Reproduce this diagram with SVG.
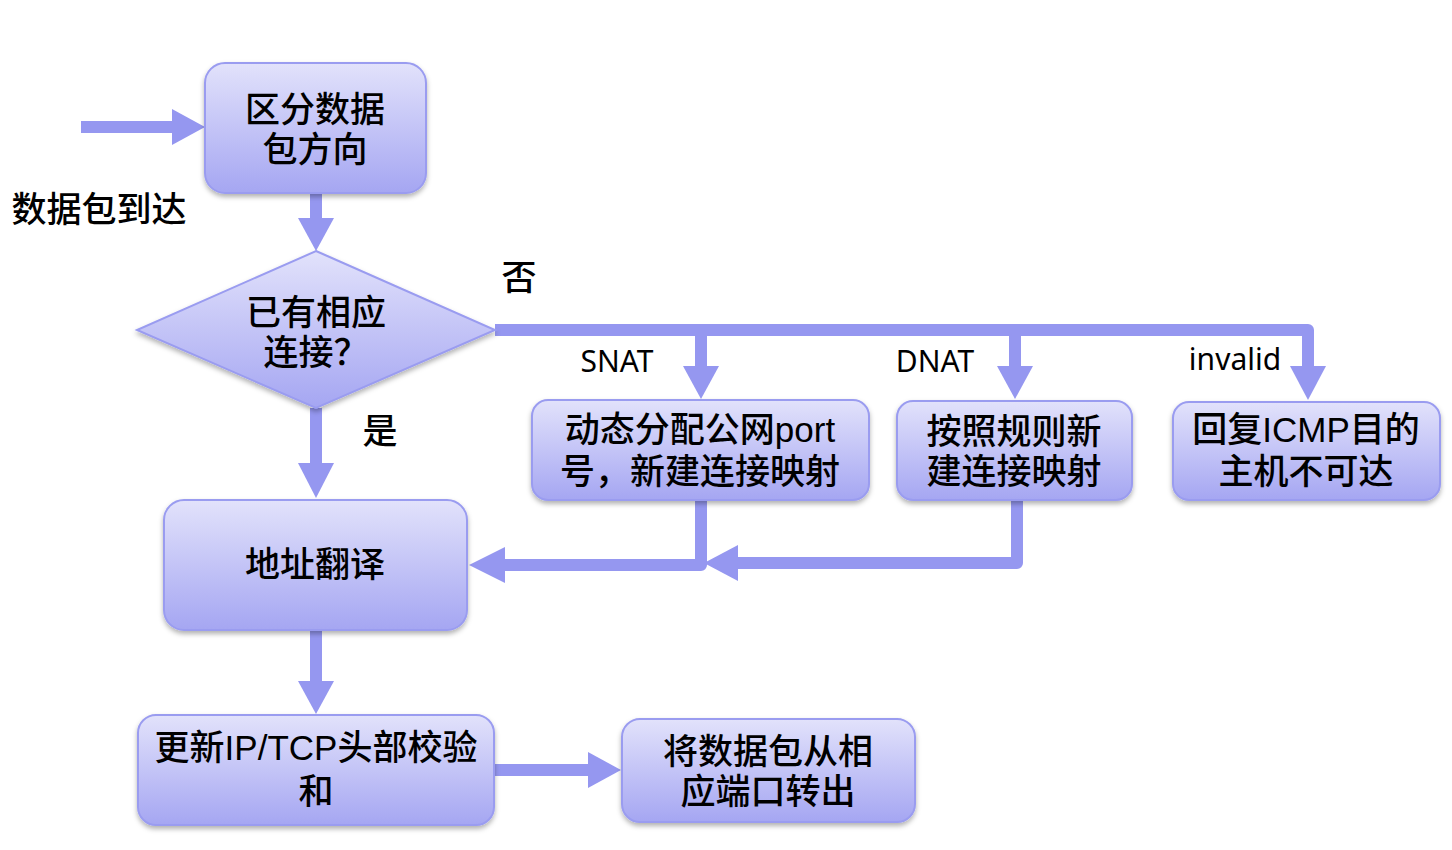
<svg xmlns="http://www.w3.org/2000/svg" width="1452" height="850" viewBox="0 0 1452 850">
<defs>
<linearGradient id="g" x1="0" y1="0" x2="0" y2="1">
<stop offset="0" stop-color="#e2e2fb"/>
<stop offset="1" stop-color="#a5a6f2"/>
</linearGradient>
<filter id="sh" x="-10%" y="-10%" width="120%" height="130%">
<feDropShadow dx="0" dy="3" stdDeviation="2.5" flood-color="#000" flood-opacity="0.3"/>
</filter>
</defs>
<style>
.box{fill:url(#g);stroke:#9a9cf0;stroke-width:2;filter:url(#sh)}
.t{font-family:"Liberation Sans","Noto Sans CJK SC",sans-serif;font-size:35px;font-weight:500;fill:#000;text-anchor:middle}
.l{font-family:"Noto Sans","Noto Sans CJK SC",sans-serif;font-size:30px;fill:#000;text-anchor:middle;dominant-baseline:central}
.c{fill:none;stroke:#9597f0;stroke-width:12;stroke-linejoin:round}
.h{fill:#9597f0;stroke:none}
</style>
<rect width="1452" height="850" fill="#fff"/>
<g id="connectors">
<line class="c" x1="81" y1="127" x2="173" y2="127"/>
<polygon class="h" points="172,109 205,127 172,145"/>
<line class="c" x1="316" y1="193" x2="316" y2="219"/>
<polygon class="h" points="298,218 334,218 316,251"/>
<path class="c" d="M495,330 H1308 V367"/>
<line class="c" x1="701" y1="330" x2="701" y2="367"/>
<polygon class="h" points="683,366 719,366 701,399"/>
<line class="c" x1="1015" y1="330" x2="1015" y2="367"/>
<polygon class="h" points="997,366 1033,366 1015,399"/>
<polygon class="h" points="1290,366 1326,366 1308,400"/>
<line class="c" x1="316" y1="408" x2="316" y2="464"/>
<polygon class="h" points="298,463 334,463 316,498"/>
<path class="c" d="M701,500 V565 H504"/>
<polygon class="h" points="505,547 505,583 469,565"/>
<path class="c" d="M1017,500 V563 H737"/>
<polygon class="h" points="738,545 738,581 704,563"/>
<line class="c" x1="316" y1="630" x2="316" y2="682"/>
<polygon class="h" points="298,681 334,681 316,714"/>
<line class="c" x1="494" y1="770" x2="589" y2="770"/>
<polygon class="h" points="588,752 588,788 621,770"/>
</g>
<g id="n-arrive"><text class="t" x="99" y="222">数据包到达</text></g>
<g id="n-direction">
<rect class="box" x="205" y="63" width="221" height="130" rx="20"/>
<text class="t" x="315" y="122">区分数据<tspan x="315" dy="40">包方向</tspan></text>
</g>
<g id="n-decision">
<polygon class="box" points="316,251 495,330 316,408 137,330"/>
<text class="t" x="316" y="325">已有相应<tspan x="316" dy="40">连接？</tspan></text>
</g>
<g id="labels">
<text class="t" x="519" y="290">否</text>
<text class="t" x="380" y="444">是</text>
<text class="l" x="617" y="360">SNAT</text>
<text class="l" x="935" y="360">DNAT</text>
<text class="l" x="1235" y="358">invalid</text>
</g>
<g id="n-snat">
<rect class="box" x="532" y="400" width="337" height="100" rx="16"/>
<text class="t" x="700" y="442">动态分配公网port<tspan x="700" dy="42">号，新建连接映射</tspan></text>
</g>
<g id="n-dnat">
<rect class="box" x="897" y="401" width="235" height="99" rx="16"/>
<text class="t" x="1014" y="444">按照规则新<tspan x="1014" dy="40">建连接映射</tspan></text>
</g>
<g id="n-invalid">
<rect class="box" x="1173" y="402" width="267" height="98" rx="16"/>
<text class="t" x="1306" y="442">回复ICMP目的<tspan x="1306" dy="42">主机不可达</tspan></text>
</g>
<g id="n-translate">
<rect class="box" x="164" y="500" width="303" height="130" rx="20"/>
<text class="t" x="315" y="577">地址翻译</text>
</g>
<g id="n-checksum">
<rect class="box" x="138" y="715" width="356" height="110" rx="18"/>
<text class="t" x="316" y="760">更新IP/TCP头部校验<tspan x="316" dy="44">和</tspan></text>
</g>
<g id="n-forward">
<rect class="box" x="622" y="719" width="293" height="103" rx="18"/>
<text class="t" x="768" y="764">将数据包从相<tspan x="768" dy="40">应端口转出</tspan></text>
</g>
</svg>
